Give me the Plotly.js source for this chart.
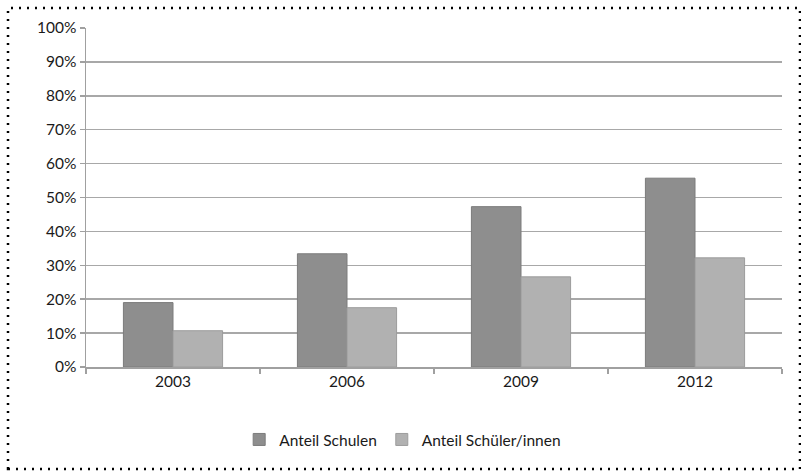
<!DOCTYPE html>
<html>
<head>
<meta charset="utf-8">
<script src="https://cdn.plot.ly/plotly-3.0.1.min.js"></script>
<style>
  html, body { margin: 0; padding: 0; background: #fff; }
  #chart { width: 801px; height: 471px; }
</style>
</head>
<body>
<div id="chart"></div>
<script>
const years = ['2003', '2006', '2009', '2012'];
const anteilSchulen = [0.19, 0.334, 0.473, 0.557];
const anteilSchueler = [0.107, 0.175, 0.266, 0.322];
const seriesNames = ['Anteil Schulen', 'Anteil Schüler/innen'];

const traces = [
  {
    type: 'bar', x: years, y: anteilSchulen, name: seriesNames[0],
    marker: { color: '#8e8e8e', line: { color: '#7c7c7c', width: 1 } },
    hoverinfo: 'none'
  },
  {
    type: 'bar', x: years, y: anteilSchueler, name: seriesNames[1],
    marker: { color: '#b1b1b1', line: { color: '#9c9c9c', width: 1 } },
    hoverinfo: 'none'
  }
];

const layout = {
  width: 801, height: 471,
  margin: { l: 86, r: 19, t: 28, b: 104 },
  paper_bgcolor: '#ffffff', plot_bgcolor: '#ffffff',
  font: { family: 'Lato, "Open Sans", sans-serif', size: 15.5, color: '#1a1a1a' },
  barmode: 'group',
  bargap: 0.43, bargroupgap: 0,
  showlegend: true,
  legend: {
    orientation: 'h', x: 0.455, xanchor: 'center', y: -0.215, yanchor: 'middle',
    font: { size: 15.5, color: '#1a1a1a' }, itemclick: false
  },
  xaxis: {
    type: 'category', tickson: 'boundaries', ticks: 'outside', ticklen: 5,
    tickcolor: '#a0a0a0', tickwidth: 1.5,
    showline: true, linecolor: '#a0a0a0', linewidth: 1.5,
    showgrid: false, zeroline: false,
    tickfont: { size: 15.5, color: '#1a1a1a' }
  },
  yaxis: {
    range: [0, 1], dtick: 0.1, tickformat: '.0%',
    ticks: 'outside', ticklen: 5, tickcolor: '#a0a0a0', tickwidth: 1.5,
    showline: true, linecolor: '#a0a0a0', linewidth: 1.5,
    showgrid: true, gridcolor: '#a8a8a8', gridwidth: 1.5,
    zeroline: false,
    tickfont: { size: 15.5, color: '#1a1a1a' }
  },
  shapes: [
    {
      type: 'rect', xref: 'paper', yref: 'paper',
      x0: (8 - 86) / 696, x1: (800 - 86) / 696,
      y0: (367 - 469) / 339, y1: (367 - 8) / 339,
      line: { color: '#000', width: 2.5, dash: '2px,6px' },
      fillcolor: 'rgba(0,0,0,0)', layer: 'above'
    }
  ]
};

Plotly.newPlot('chart', traces, layout, { staticPlot: true });
</script>
</body>
</html>
